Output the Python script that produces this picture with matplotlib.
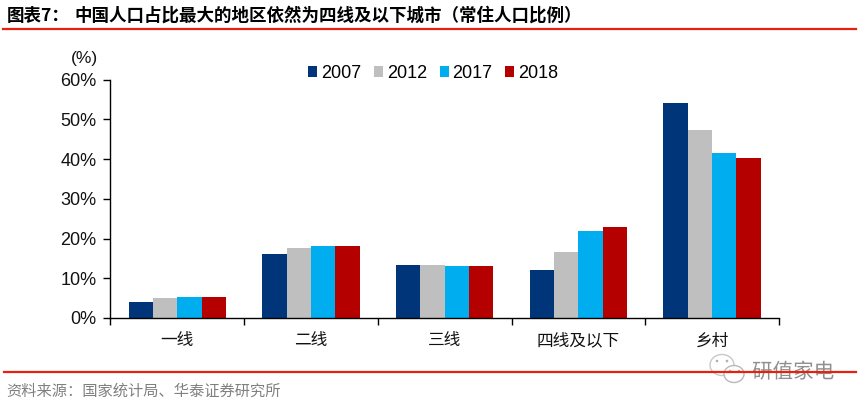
import matplotlib
matplotlib.use("Agg")
import matplotlib.pyplot as plt
import matplotlib.patheffects as pe
from matplotlib.patches import Ellipse
import numpy as np

categories = ["一线", "二线", "三线", "四线及以下", "乡村"]
years = ["2007", "2012", "2017", "2018"]
v2007 = [4.0, 16.2, 13.3, 12.2, 54.0]
v2012 = [5.0, 17.6, 13.3, 16.6, 47.3]
v2017 = [5.2, 18.1, 13.0, 22.0, 41.4]
v2018 = [5.2, 18.2, 13.1, 23.0, 40.3]
colors = ["#003679", "#BFBFBF", "#00AEEF", "#B50000"]
yticks = [0, 10, 20, 30, 40, 50, 60]

W, H = 860, 409
fig = plt.figure(figsize=(W / 100, H / 100), dpi=100)
cjk = ["Noto Sans CJK SC", "DejaVu Sans"]
latin = ["Liberation Sans", "DejaVu Sans"]
plt.rcParams["font.family"] = cjk

ax = fig.add_axes([110.5 / W, 1 - 318 / H, (779 - 110.5) / W, (318 - 79.5) / H])
x = np.arange(len(categories))
bw = 0.182
for i, (yr, vals, c) in enumerate(zip(years, [v2007, v2012, v2017, v2018], colors)):
    ax.bar(x + (i - 1.5) * bw, vals, bw, color=c, label=yr, linewidth=0)
ax.set_xlim(-0.5, 4.5)
ax.set_ylim(0, 60)
ax.set_yticks(yticks)
ax.set_yticklabels([f"{t}%" for t in yticks], family=latin, fontsize=13, color="#111111")
ax.set_xticks(np.arange(-0.5, 5, 1))
ax.set_xticklabels([])
for xi, c in zip(x, categories):
    ax.annotate(c, xy=(xi, 0), xycoords=("data", "axes fraction"), xytext=(0, -23 * 0.72),
                textcoords="offset points", ha="center", va="center",
                fontsize=12, color="#111111", family=cjk)
ax.tick_params(axis="y", length=5, width=1, pad=5, color="black")
ax.tick_params(axis="x", length=5, width=1, color="black")
for s in ["top", "right"]:
    ax.spines[s].set_visible(False)
for s in ["left", "bottom"]:
    ax.spines[s].set_linewidth(1)

ax.legend(loc="center left", bbox_to_anchor=(308 / W, 1 - 73.5 / H), bbox_transform=fig.transFigure,
          ncol=4, frameon=False, handlelength=0.5, handleheight=0.62, handletextpad=0.22,
          columnspacing=0.7, prop={"family": latin, "size": 13}, borderaxespad=0, borderpad=0)

fig.text(84 / W, 1 - 59 / H, "(%)", ha="center", va="center", fontsize=12.5, family=latin, color="#111111")

fig.text(7 / W, 1 - 16 / H, "图表7：", ha="left", va="center", fontsize=12.6, weight="bold", color="black", family=cjk)
fig.text(74 / W, 1 - 16 / H, "中国人口占比最大的地区依然为四线及以下城市（常住人口比例）", ha="left",
         va="center", fontsize=12.6, weight="bold", color="black", family=cjk)
fig.add_artist(plt.Line2D([3 / W, 856 / W], [1 - 29 / H] * 2, color="#E8200F", lw=1.6))
fig.add_artist(plt.Line2D([4 / W, 856 / W], [1 - 372 / H] * 2, color="#E8200F", lw=1.6))
fig.text(6 / W, 1 - 391 / H, "资料来源：国家统计局、华泰证券研究所", ha="left", va="center",
         fontsize=11, color="#808080", family=cjk)

# watermark
ov = fig.add_axes([0, 0, 1, 1], facecolor="none")
ov.set_xlim(0, W)
ov.set_ylim(H, 0)
ov.axis("off")
ov.add_patch(Ellipse((722, 365), 24, 21, fc=(1, 1, 1, .75), ec="#C8C8C8", lw=1))
ov.add_patch(Ellipse((734, 374), 20, 17, fc=(1, 1, 1, .85), ec="#B8B8B8", lw=1))
for px, py in [(717, 361), (727, 361), (730, 371), (739, 371)]:
    ov.add_patch(Ellipse((px, py), 2.6, 2.6, fc="#B0B0B0", ec="none"))
ov.text(793, 372, "研值家电", ha="center", va="center", fontsize=14.8, color="#8F8F8F", family=cjk,
        path_effects=[pe.withStroke(linewidth=2, foreground="white")])

fig.savefig("out.png", dpi=100)
